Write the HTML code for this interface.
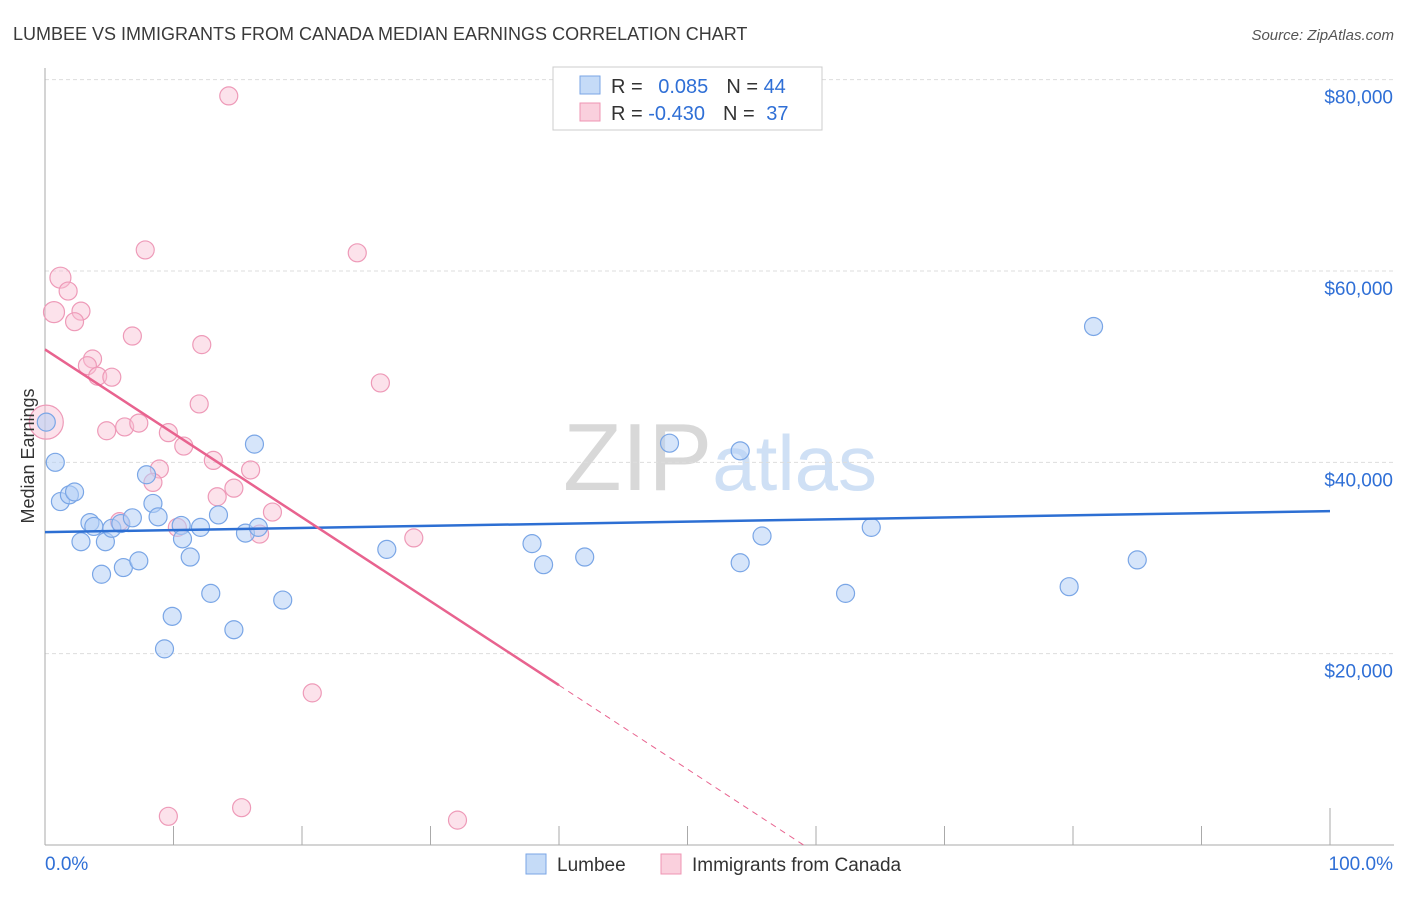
<!DOCTYPE html>
<html><head><meta charset="utf-8"><style>
body{margin:0;background:#fff;font-family:"Liberation Sans",sans-serif}
svg text{font-family:"Liberation Sans",sans-serif}
</style></head><body>
<svg id="chart" width="1406" height="892" xmlns="http://www.w3.org/2000/svg">
<text x="13" y="40" font-size="18" fill="#3a3a3a">LUMBEE VS IMMIGRANTS FROM CANADA MEDIAN EARNINGS CORRELATION CHART</text>
<text x="1394" y="40" font-size="15" font-style="italic" fill="#555" text-anchor="end">Source: ZipAtlas.com</text>
<text x="720" y="490" font-size="96" text-anchor="middle" fill="#ddd" font-family="Liberation Serif"><tspan fill="#d8d8d8">ZIP</tspan><tspan fill="#cfe0f5" font-family="Liberation Sans" font-size="78">atlas</tspan></text>
<g id="grid"></g><g id="axes"></g><g id="marks"></g>
<text transform="translate(34,456) rotate(-90)" font-size="18" fill="#333" text-anchor="middle">Median Earnings</text>
<g>
<rect x="553" y="67" width="269" height="63" fill="#fff" stroke="#ccc"/>
<rect x="580" y="76" width="20" height="18" fill="#c5dbf7" stroke="#7aa6e6"/>
<text x="611" y="93" font-size="20" fill="#333">R = <tspan fill="#2f6fd6" dx="10">0.085</tspan><tspan dx="18">N = </tspan><tspan fill="#2f6fd6">44</tspan></text>
<rect x="580" y="103" width="20" height="18" fill="#fad0dd" stroke="#ef94b3"/>
<text x="611" y="120" font-size="20" fill="#333">R = <tspan fill="#2f6fd6">-0.430</tspan><tspan dx="18">N = </tspan><tspan fill="#2f6fd6" dx="6">37</tspan></text>
</g>
<g>
<rect x="526" y="854" width="20" height="20" fill="#c5dbf7" stroke="#7aa6e6"/>
<text x="557" y="871" font-size="19" fill="#333">Lumbee</text>
<rect x="661" y="854" width="20" height="20" fill="#fad0dd" stroke="#ef94b3"/>
<text x="692" y="871" font-size="19" fill="#333">Immigrants from Canada</text>
</g>
</svg>
<script>
const yTicks=[20000,40000,60000,80000];
const yTickLabels=["$20,000","$40,000","$60,000","$80,000"];
const xTicks=[0,10,20,30,40,50,60,70,80,90,100];
const lumbeeX=[0.1,0.8,1.2,1.9,2.3,3.5,3.8,2.8,4.4,4.7,5.2,5.9,6.1,6.8,7.3,7.9,8.4,8.8,9.3,9.9,10.6,10.7,11.3,12.1,12.9,13.5,14.7,15.6,16.3,16.6,18.5,26.6,37.9,38.8,42.0,48.6,54.1,54.1,55.8,62.3,64.3,79.7,81.6,85.0];
const lumbeeY=[44200,40000,35900,36600,36900,33700,33300,31700,28300,31700,33100,33600,29000,34200,29700,38700,35700,34300,20500,23900,33400,32000,30100,33200,26300,34500,22500,32600,41900,33200,25600,30900,31500,29300,30100,42000,41200,29500,32300,26300,33200,27000,54200,29800];
const canadaX=[14.3,7.8,24.3,1.2,1.8,0.7,2.8,2.3,6.8,12.2,3.7,3.3,4.1,5.2,26.1,12.0,0.1,4.8,6.2,7.3,9.6,10.8,13.1,8.9,16.0,8.4,14.7,13.4,17.7,5.8,10.3,16.7,28.7,20.8,9.6,15.3,32.1];
const canadaY=[78300,62200,61900,59300,57900,55700,55800,54700,53200,52300,50800,50100,49000,48900,48300,46100,44200,43300,43700,44100,43100,41700,40200,39300,39200,37900,37300,36400,34800,33800,33200,32500,32100,15900,3000,3900,2600];
const lumbeeTrend=[32700,34900];
const canadaTrend=[51800,16700,40];
const NS="http://www.w3.org/2000/svg";
const X=v=>45+v*12.85, Y=v=>845-v*0.009567;
function mk(tag,attrs,parent){const e=document.createElementNS(NS,tag);for(const k in attrs)e.setAttribute(k,attrs[k]);document.getElementById(parent).appendChild(e);return e;}
yTicks.forEach((t,i)=>{
 const l=mk('line',{x1:45,x2:1394,y1:Y(t),y2:Y(t),stroke:'#ddd','stroke-dasharray':'4,3'},'grid');
 
 
 const tx=mk('text',{x:1393,y:Y(t)+24,'font-size':19,fill:'#2f6fd6','text-anchor':'end'},'grid');
 tx.textContent=yTickLabels[i];
 
 
});
const ax=mk('line',{x1:45,x2:45,y1:68,y2:845,stroke:'#aaa'},'axes');


const bx=mk('line',{x1:45,x2:1394,y1:845,y2:845,stroke:'#aaa'},'axes');


xTicks.forEach(t=>{
 const l=mk('line',{x1:X(t),x2:X(t),y1:t==100?808:826,y2:845,stroke:'#aaa'},'axes');
 
 
});
const xl0=mk('text',{x:45,y:870,'font-size':19,fill:'#2f6fd6'},'axes');xl0.textContent='0.0%';


const xl1=mk('text',{x:1393,y:870,'font-size':19,fill:'#2f6fd6','text-anchor':'end'},'axes');xl1.textContent='100.0%';


canadaX.forEach((x,i)=>{
 const r=(x<1&&canadaY[i]>44000&&canadaY[i]<45000)?17:(x<1.3&&canadaY[i]>55000)?10.5:9;
 const c=mk('circle',{cx:X(x),cy:Y(canadaY[i]),r:r,fill:'rgba(248,190,210,0.45)',stroke:'#ee9ab8','stroke-width':1.2},'marks');
 
 
});
lumbeeX.forEach((x,i)=>{
 const c=mk('circle',{cx:X(x),cy:Y(lumbeeY[i]),r:9,fill:'rgba(180,208,245,0.55)',stroke:'#7aa6e6','stroke-width':1.2},'marks');
 
 
});
const bl=mk('line',{x1:X(0),y1:Y(lumbeeTrend[0]),x2:X(100),y2:Y(lumbeeTrend[1]),stroke:'#2d6fd3','stroke-width':2.5},'marks');


const slope=(canadaTrend[1]-canadaTrend[0])/canadaTrend[2];
const zeroX=-canadaTrend[0]/slope;
const pl=mk('line',{x1:X(0),y1:Y(canadaTrend[0]),x2:X(canadaTrend[2]),y2:Y(canadaTrend[1]),stroke:'#e8638f','stroke-width':2.5},'marks');


const pd=mk('line',{x1:X(canadaTrend[2]),y1:Y(canadaTrend[1]),x2:X(zeroX),y2:Y(0),stroke:'#e8638f','stroke-width':1,'stroke-dasharray':'6,5'},'marks');


</script>
</body></html>
